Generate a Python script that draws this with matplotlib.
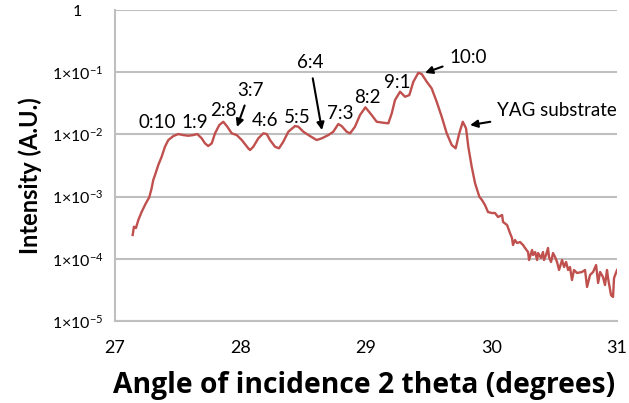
import matplotlib
matplotlib.use("Agg")
import matplotlib.pyplot as plt
import numpy as np

plt.rcParams['font.family'] = ['Lato', 'DejaVu Sans']
plt.rcParams['mathtext.fontset'] = 'custom'
plt.rcParams['mathtext.rm'] = 'Lato'
plt.rcParams['mathtext.it'] = 'Lato:italic'
plt.rcParams['mathtext.bf'] = 'Lato:bold'

# XRD scan: 2-theta angle (degrees) and log10 of the normalised intensity
two_theta = [
    27.141, 27.151, 27.167, 27.186, 27.213, 27.247, 27.273, 27.292, 27.305, 27.319,
    27.345, 27.372, 27.398, 27.425, 27.465, 27.504, 27.544, 27.584, 27.624, 27.656,
    27.691, 27.717, 27.743, 27.771, 27.797, 27.831, 27.863, 27.895, 27.930, 27.970,
    28.010, 28.062, 28.076, 28.102, 28.142, 28.182, 28.209, 28.235, 28.275, 28.307,
    28.341, 28.381, 28.434, 28.461, 28.501, 28.554, 28.607, 28.647, 28.700, 28.739,
    28.779, 28.806, 28.846, 28.873, 28.912, 28.952, 28.995, 29.045, 29.085, 29.138,
    29.178, 29.205, 29.231, 29.271, 29.311, 29.345, 29.377, 29.417, 29.444, 29.484,
    29.523, 29.563, 29.603, 29.643, 29.683, 29.714, 29.743, 29.771, 29.797, 29.815,
    29.842, 29.869, 29.903, 29.924, 29.948, 29.972, 30.004, 30.028, 30.052, 30.084,
    30.092, 30.124, 30.147, 30.163, 30.171, 30.187, 30.203, 30.227, 30.251, 30.267,
    30.291, 30.299, 30.323, 30.331, 30.347, 30.363, 30.371, 30.394, 30.410, 30.418,
    30.434, 30.450, 30.458, 30.474, 30.490, 30.506, 30.522, 30.538, 30.562, 30.578,
    30.594, 30.610, 30.625, 30.641, 30.657, 30.681, 30.721, 30.745, 30.761, 30.785,
    30.809, 30.833, 30.849, 30.865, 30.888, 30.904, 30.920, 30.928, 30.952, 30.968,
    30.976, 31.000,
]
log_intensity = [
    -3.617, -3.484, -3.505, -3.376, -3.243, -3.103, -3.011, -2.866, -2.733, -2.653,
    -2.492, -2.358, -2.198, -2.090, -2.026, -1.994, -2.010, -2.021, -2.010, -1.994,
    -2.063, -2.143, -2.186, -2.143, -1.982, -1.849, -1.796, -1.876, -1.982, -2.010,
    -2.090, -2.223, -2.251, -2.198, -2.063, -1.982, -1.994, -2.090, -2.198, -2.223,
    -2.117, -1.957, -1.865, -1.876, -1.957, -2.026, -2.090, -2.063, -2.010, -1.957,
    -1.833, -1.865, -1.957, -1.982, -1.876, -1.688, -1.564, -1.688, -1.796, -1.812,
    -1.821, -1.661, -1.447, -1.313, -1.394, -1.367, -1.153, -1.008, -1.029, -1.153,
    -1.259, -1.474, -1.715, -1.982, -2.170, -2.223, -1.982, -1.796, -1.902, -2.198,
    -2.519, -2.786, -3.002, -3.055, -3.135, -3.248, -3.264, -3.264, -3.328, -3.296,
    -3.408, -3.457, -3.585, -3.666, -3.778, -3.698, -3.746, -3.730, -3.778, -3.826,
    -3.891, -4.019, -3.858, -3.939, -3.891, -4.019, -3.907, -3.987, -3.891, -4.019,
    -3.939, -3.826, -3.971, -4.051, -3.907, -3.971, -4.051, -4.180, -4.019, -4.132,
    -4.051, -4.180, -4.132, -4.341, -4.180, -4.228, -4.212, -4.180, -4.453, -4.260,
    -4.212, -4.100, -4.389, -4.212, -4.293, -4.421, -4.180, -4.309, -4.582, -4.614,
    -4.309, -4.180,
]

# Composition labels placed without arrows: (text, x, log10 y)
plain_labels = ["0:10", "1:9", "2:8", "4:6", "5:5", "7:3", "8:2", "9:1"]
plain_x = [27.335, 27.637, 27.861, 28.195, 28.450, 28.793, 29.008, 29.247]
plain_logy = [-1.80, -1.80, -1.61, -1.77, -1.72, -1.66, -1.40, -1.17]

# Labels with arrows pointing at features on the curve
arrow_labels = ["3:7", "6:4", "10:0", "YAG substrate"]
arrow_text_x = [28.076, 28.554, 29.813, 30.522]
arrow_text_logy = [-1.29, -0.85, -0.76, -1.62]
arrow_tip_x = [27.972, 28.649, 29.470, 29.829]
arrow_tip_logy = [-1.88, -1.93, -1.01, -1.85]

x_ticks = [27, 28, 29, 30, 31]
y_ticks = [1, 1e-1, 1e-2, 1e-3, 1e-4, 1e-5]
y_tick_labels = ["1", r"1×10$^{-1}$", r"1×10$^{-2}$", r"1×10$^{-3}$",
                 r"1×10$^{-4}$", r"1×10$^{-5}$"]

fig = plt.figure(figsize=(6.29, 4.03), dpi=100)
ax = fig.add_axes([0.1828, 0.2035, 0.7982, 0.7715])

intensity = 10 ** np.array(log_intensity)
ax.plot(two_theta, intensity, color="#c0504d", lw=1.7, zorder=3)

ax.set_yscale("log")
ax.set_xlim(27, 31)
ax.set_ylim(1e-5, 1)
ax.set_xticks(x_ticks)
ax.set_xticklabels([str(t) for t in x_ticks], fontsize=13)
ax.set_yticks(y_ticks)
ax.set_yticklabels(y_tick_labels, fontsize=11.5)
ax.yaxis.set_minor_locator(matplotlib.ticker.NullLocator())
ax.tick_params(axis="both", length=0)
ax.tick_params(axis="x", pad=14)
ax.tick_params(axis="y", pad=27)
for t in ax.get_yticklabels():
    t.set_horizontalalignment("center")

ax.grid(axis="y", color="#bfbfbf", lw=1.5, zorder=0)
for side in ("top", "right"):
    ax.spines[side].set_visible(False)
for side in ("left", "bottom"):
    ax.spines[side].set_color("#bfbfbf")
    ax.spines[side].set_linewidth(1.5)

ax.set_xlabel("Angle of incidence 2 theta (degrees)", fontsize=20.3,
              fontweight="bold", family=["Open Sans", "DejaVu Sans"])
ax.xaxis.set_label_coords(0.496, -0.206)
ax.xaxis.label.set_verticalalignment("center")
ax.set_ylabel("Intensity (A.U.)", fontsize=17, fontweight="bold")
ax.yaxis.set_label_coords(-0.169, 0.469)
ax.yaxis.label.set_verticalalignment("center")

for label, lx, ly in zip(plain_labels, plain_x, plain_logy):
    ax.text(lx, 10 ** ly, label, fontsize=13.5, ha="center", va="center", zorder=4)

for label, tx, ty, px, py in zip(arrow_labels, arrow_text_x, arrow_text_logy,
                                 arrow_tip_x, arrow_tip_logy):
    ax.annotate(label, xy=(px, 10 ** py), xytext=(tx, 10 ** ty),
                fontsize=13.5, ha="center", va="center", zorder=4,
                arrowprops=dict(arrowstyle="-|>", color="black", lw=1.5,
                                mutation_scale=11, shrinkA=3, shrinkB=0))

fig.savefig("out.png", dpi=100)
